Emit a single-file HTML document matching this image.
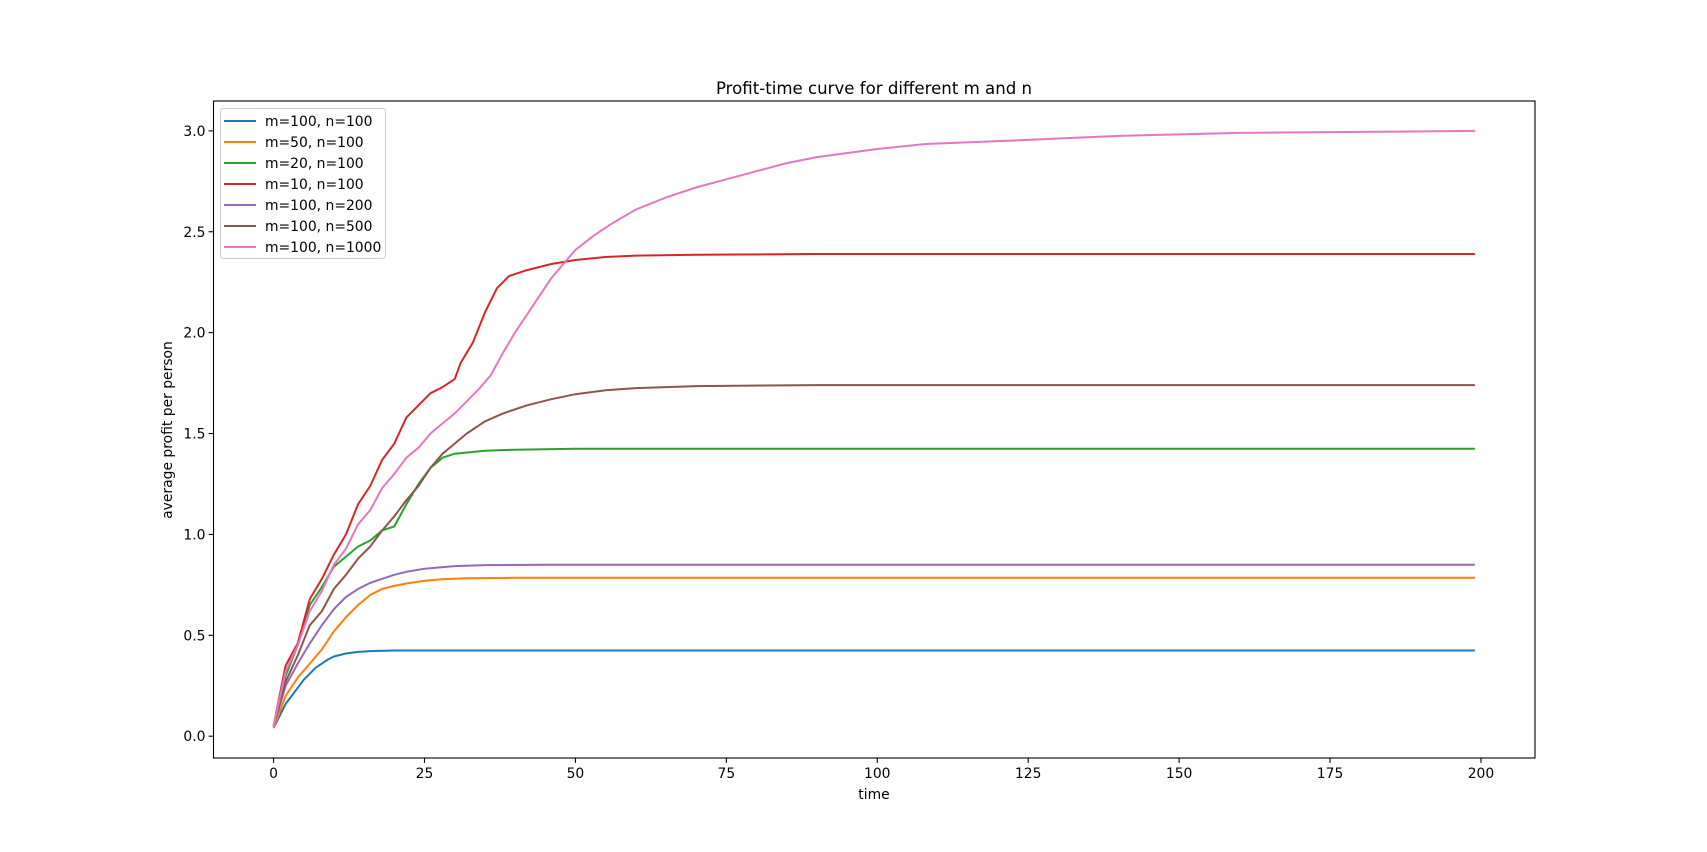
<!DOCTYPE html>
<html><head><meta charset="utf-8"><style>
body{margin:0;background:#fff}
svg{display:block;font-family:"DejaVu Sans","Liberation Sans",sans-serif}
</style></head><body>
<svg id="chart" width="1707" height="852" viewBox="0 0 1707 852" xmlns="http://www.w3.org/2000/svg">
<rect width="1707" height="852" fill="#fff"/>
<text x="874" y="94" font-size="16.6" text-anchor="middle">Profit-time curve for different m and n</text>
<g id="plot"></g>
<text x="874" y="799" font-size="13.9" text-anchor="middle">time</text>
<text transform="translate(172,430) rotate(-90)" font-size="13.9" text-anchor="middle">average profit per person</text>
</svg>
<script>
const seriesNames=["m=100, n=100","m=50, n=100","m=20, n=100","m=10, n=100","m=100, n=200","m=100, n=500","m=100, n=1000"];
const seriesColors=["#1f77b4","#ff7f0e","#2ca02c","#d62728","#9467bd","#8c564b","#e377c2"];
const xTicks=[0,25,50,75,100,125,150,175,200];
const yTicks=[0.0,0.5,1.0,1.5,2.0,2.5,3.0];
const blueT=[0,1,2,3,4,5,6,7,8,9,10,12,14,16,20,199];
const blueV=[0.04,0.1,0.16,0.2,0.24,0.28,0.31,0.34,0.36,0.38,0.395,0.41,0.418,0.422,0.425,0.425];
const orangeT=[0,2,4,6,8,10,12,14,16,18,20,22,25,28,32,40,199];
const orangeV=[0.04,0.2,0.29,0.36,0.43,0.52,0.59,0.65,0.7,0.73,0.745,0.757,0.77,0.778,0.783,0.785,0.785];
const greenT=[0,2,4,6,8,10,12,14,16,18,20,22,24,26,28,30,35,40,50,199];
const greenV=[0.05,0.3,0.45,0.65,0.74,0.84,0.89,0.94,0.97,1.02,1.04,1.15,1.25,1.33,1.38,1.40,1.415,1.42,1.425,1.425];
const redT=[0,2,4,6,8,10,12,14,16,18,20,22,24,26,28,30,31,33,35,37,39,42,46,50,55,60,70,90,199];
const redV=[0.05,0.35,0.46,0.68,0.78,0.9,1.0,1.15,1.24,1.37,1.45,1.58,1.64,1.7,1.73,1.77,1.85,1.95,2.1,2.22,2.28,2.31,2.34,2.36,2.375,2.382,2.386,2.39,2.39];
const purpleT=[0,2,4,6,8,10,12,14,16,18,20,22,25,30,35,45,199];
const purpleV=[0.05,0.25,0.36,0.46,0.55,0.63,0.69,0.73,0.76,0.78,0.80,0.815,0.83,0.843,0.848,0.85,0.85];
const brownT=[0,2,4,6,8,10,12,14,16,18,20,22,24,26,28,30,32,35,38,42,46,50,55,60,70,90,199];
const brownV=[0.05,0.27,0.4,0.55,0.62,0.73,0.8,0.88,0.94,1.02,1.09,1.17,1.24,1.33,1.40,1.45,1.5,1.56,1.6,1.64,1.67,1.695,1.715,1.725,1.735,1.74,1.74];
const pinkT=[0,2,4,6,8,10,12,14,16,18,20,22,24,26,28,30,32,34,36,38,40,42,44,46,48,50,53,56,60,65,70,75,80,85,90,100,108,125,140,160,180,199];
const pinkV=[0.05,0.32,0.45,0.62,0.72,0.85,0.93,1.05,1.12,1.23,1.3,1.38,1.43,1.5,1.55,1.6,1.66,1.72,1.79,1.9,2.0,2.09,2.18,2.27,2.34,2.41,2.48,2.54,2.61,2.67,2.72,2.76,2.8,2.84,2.87,2.91,2.935,2.955,2.975,2.99,2.995,3.0];
const allT=[blueT,orangeT,greenT,redT,purpleT,brownT,pinkT];
const allV=[blueV,orangeV,greenV,redV,purpleV,brownV,pinkV];

const L=213.5,R=1535,T=101,B=758;
const xMin=-9.95,xMax=208.95,yMin=-0.108,yMax=3.148;
const xs=v=>L+(v-xMin)/(xMax-xMin)*(R-L);
const ys=v=>B-(v-yMin)/(yMax-yMin)*(B-T);
const NS="http://www.w3.org/2000/svg";
const g=document.getElementById('plot');
function mk(tag,attrs){const e=document.createElementNS(NS,tag);for(const k in attrs)e.setAttribute(k,attrs[k]);g.appendChild(e);return e;}

allT.forEach((tt,i)=>{
  const d=tt.map((t,j)=>(j?'L':'M')+xs(t).toFixed(1)+','+ys(allV[i][j]).toFixed(1)).join(' ');
  const p=mk('path',{d:d,fill:'none',stroke:seriesColors[i],'stroke-width':2,'stroke-linejoin':'round'});
  
  
});
const frame=mk('rect',{x:L,y:T,width:R-L,height:B-T,fill:'none',stroke:'#000','stroke-width':1.1});


xTicks.forEach(v=>{
  const x=xs(v);
  const tk=mk('line',{x1:x,x2:x,y1:B,y2:B+4.9,stroke:'#000','stroke-width':1.1});
  
  
  const t=mk('text',{x:x,y:B+20,'font-size':13.9,'text-anchor':'middle'});t.textContent=v;
  
  
});
yTicks.forEach(v=>{
  const y=ys(v);
  const tk=mk('line',{x1:L-4.9,x2:L,y1:y,y2:y,stroke:'#000','stroke-width':1.1});
  
  
  const t=mk('text',{x:L-8,y:y+5,'font-size':13.9,'text-anchor':'end'});t.textContent=v.toFixed(1);
  
  
});
const lb=mk('rect',{x:220.5,y:108.5,width:165,height:150,rx:3,fill:'#fff','fill-opacity':0.8,stroke:'#ccc'});


seriesNames.forEach((n,i)=>{
  const y=121+i*21;
  const ln=mk('line',{x1:224,x2:256,y1:y,y2:y,stroke:seriesColors[i],'stroke-width':2});
  
  
  const t=mk('text',{x:265,y:y+5,'font-size':13.9});t.textContent=n;
  
  
});
</script>
</body></html>
